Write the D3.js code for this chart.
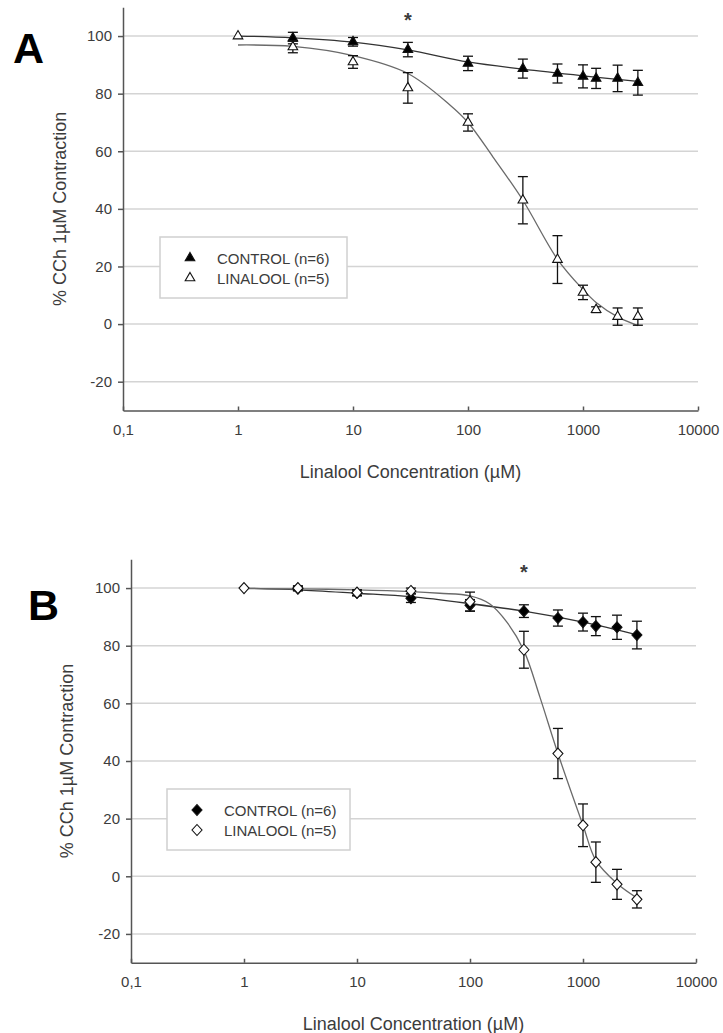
<!DOCTYPE html>
<meta charset="utf-8">
<html>
<head>
<script src="https://cdn.jsdelivr.net/npm/d3@7"></script>
<style>
  body { margin: 0; background: #fff; }
  text { font-family: "Liberation Sans", Arial, sans-serif; fill: #3c3c3c; }
  .grid line { stroke: #d4d4d4; stroke-width: 1.5px; }
  .axis path, .axis line { stroke: #555; stroke-width: 1.5px; }
</style>
</head>
<body>
<script>
// ---- data ----
var xTicks = [0.1, 1, 10, 100, 1000, 10000];
var yTicks = [-20, 0, 20, 40, 60, 80, 100];

// panel A
var concACtrl = [3, 10, 30, 100, 300, 600, 1000, 1300, 2000, 3000];
var ctrlA     = [99.3, 98, 95.3, 90.5, 88.7, 87, 86, 85.3, 85.3, 83.8];
var ctrlAErr  = [2, 1.5, 2.5, 2.5, 3.3, 3.3, 4, 3.5, 4.6, 4.3];
var concALin  = [1, 3, 10, 30, 100, 300, 600, 1000, 1300, 2000, 3000];
var linA      = [100, 96.2, 91, 82, 70, 43, 22.4, 11, 5, 2.6, 2.6];
var linAErr   = [0, 2, 2.2, 5.3, 3, 8.2, 8.3, 2.5, 1, 3, 3];
// fitted curves
var fitACtrlX = [1, 3, 10, 30, 100, 300, 1000, 3000];
var fitACtrlY = [100, 99.4, 97.9, 95.2, 91, 88.5, 86.2, 84.3];
var fitALinX  = [1, 3, 10, 30, 70, 100, 165, 300, 600, 1000, 1300, 2000, 3000];
var fitALinY  = [96.9, 96.4, 93.2, 87, 76, 70, 58, 43, 22.5, 12, 7.5, 2.5, -0.5];

// panel B
var concBCtrl = [3, 10, 30, 100, 300, 600, 1000, 1300, 2000, 3000];
var ctrlB     = [99.8, 98.3, 96.5, 94, 92, 89.6, 88.2, 86.8, 86.4, 83.7];
var ctrlBErr  = [0.8, 1, 1.5, 2, 2.2, 2.8, 3.1, 3.3, 4.2, 4.8];
var concBLin  = [1, 3, 10, 30, 100, 300, 600, 1000, 1300, 2000, 3000];
var linB      = [100, 100, 98.4, 99, 95.3, 78.6, 42.6, 17.7, 4.9, -2.8, -8];
var linBErr   = [0, 0.8, 1, 1, 3.3, 6.4, 8.7, 7.4, 7, 5.2, 3];
var fitBCtrlX = [1, 3, 10, 30, 100, 300, 1000, 3000];
var fitBCtrlY = [100, 99.4, 98.2, 97, 94.6, 92, 88.2, 83.8];
var fitBLinX  = [1, 3, 10, 30, 54, 100, 150, 212, 300, 417, 600, 1000, 1300, 2000, 3000];
var fitBLinY  = [99.8, 99.7, 99.4, 98.8, 98.2, 97.3, 94.5, 88.2, 78.3, 62, 42.6, 17.7, 5.5, -2.5, -7.5];

var legendLabels = ["CONTROL (n=6)", "LINALOOL (n=5)"];

var svg = d3.select("body").append("svg")
    .attr("width", 723)
    .attr("height", 1033);

var diamond = {
  draw: function(ctx, size) {
    var w = Math.sqrt(size) / 2, h = w * 1.1;
    ctx.moveTo(0, -h); ctx.lineTo(w, 0); ctx.lineTo(0, h); ctx.lineTo(-w, 0); ctx.closePath();
  }
};

function zip(xs, ys, es) {
  return xs.map(function(x, i) { return {x: x, y: ys[i], e: es ? es[i] : 0}; });
}

function panel(p) {
  var x = d3.scaleLog().domain([0.1, 10000]).range([p.left, p.right]);
  var y = d3.scaleLinear().domain([-30, 110]).range([p.bottom, p.top]);
  var g = svg.append("g");

  g.append("g").attr("class", "grid")
    .selectAll("line").data(yTicks).enter().append("line")
    .attr("x1", p.left).attr("x2", p.right)
    .attr("y1", function(d) { return y(d); }).attr("y2", function(d) { return y(d); });

  g.append("g").attr("class", "axis")
    .attr("transform", "translate(0," + p.bottom + ")")
    .call(d3.axisBottom(x).tickValues(xTicks).tickSizeInner(-4).tickSizeOuter(0).tickPadding(14)
      .tickFormat(function(d) { return d === 0.1 ? "0,1" : String(d); }))
    .call(function(a) { a.selectAll("text").style("font-size", "15px").attr("fill", "#3c3c3c"); });

  g.append("g").attr("class", "axis")
    .attr("transform", "translate(" + p.left + ",0)")
    .call(d3.axisLeft(y).tickValues(yTicks).tickSizeInner(5).tickSizeOuter(0).tickPadding(6)
      .tickFormat(function(d) { return String(d); }))
    .call(function(a) { a.selectAll("text").style("font-size", "15px").attr("fill", "#3c3c3c"); });

  var line = d3.line()
    .x(function(d) { return x(d.x); })
    .y(function(d) { return y(d.y); })
    .curve(d3.curveCatmullRom.alpha(0.5));

  g.append("path").datum(zip(p.fitCtrlX, p.fitCtrlY))
    .attr("d", line).attr("fill", "none").attr("stroke", "#333").attr("stroke-width", 1.3);
  g.append("path").datum(zip(p.fitLinX, p.fitLinY))
    .attr("d", line).attr("fill", "none").attr("stroke", "#6a6a6a").attr("stroke-width", 1.3);

  var series = [
    {pts: zip(p.ctrlX, p.ctrlY, p.ctrlE), fill: "#000"},
    {pts: zip(p.linX, p.linY, p.linE), fill: "#fff"}
  ];

  series.forEach(function(s) {
    var eb = g.append("g").attr("stroke", "#111").attr("stroke-width", 1.3)
      .selectAll("g").data(s.pts.filter(function(d) { return d.e > 0; })).enter().append("g");
    eb.append("line")
      .attr("x1", function(d) { return x(d.x); }).attr("x2", function(d) { return x(d.x); })
      .attr("y1", function(d) { return y(d.y - d.e); }).attr("y2", function(d) { return y(d.y + d.e); });
    [-1, 1].forEach(function(sg) {
      eb.append("line")
        .attr("x1", function(d) { return x(d.x) - 5; }).attr("x2", function(d) { return x(d.x) + 5; })
        .attr("y1", function(d) { return y(d.y + sg * d.e); }).attr("y2", function(d) { return y(d.y + sg * d.e); });
    });
  });

  series.forEach(function(s) {
    g.append("g").selectAll("path").data(s.pts).enter().append("path")
      .attr("transform", function(d) { return "translate(" + x(d.x) + "," + y(d.y) + ")"; })
      .attr("d", d3.symbol().type(p.symbol).size(p.symSize))
      .attr("fill", s.fill).attr("stroke", "#111").attr("stroke-width", 1.1);
  });

  // significance mark
  g.append("text").attr("x", x(p.starAt)).attr("y", p.starY)
    .attr("text-anchor", "middle").style("font-size", "20px").style("font-weight", "bold")
    .text("*");

  // legend
  var lg = g.append("g");
  lg.append("rect").attr("x", p.leg[0]).attr("y", p.leg[1]).attr("width", p.leg[2]).attr("height", p.leg[3])
    .attr("fill", "#fff").attr("stroke", "#d0d0d0").attr("stroke-width", 1.5);
  legendLabels.forEach(function(t, i) {
    var cy = p.leg[1] + 21 + i * 20;
    lg.append("path").attr("transform", "translate(" + (p.leg[0] + 30) + "," + cy + ")")
      .attr("d", d3.symbol().type(p.symbol).size(p.symSize))
      .attr("fill", i === 0 ? "#000" : "#fff").attr("stroke", "#111").attr("stroke-width", 1.1);
    lg.append("text").attr("x", p.leg[0] + 57).attr("y", cy + 5.5)
      .style("font-size", "15px").text(t);
  });

  // titles
  g.append("text").attr("x", (p.left + p.right) / 2).attr("y", p.bottom + 67)
    .attr("text-anchor", "middle").style("font-size", "18px").text("Linalool Concentration (\u00b5M)");
  g.append("text")
    .attr("transform", "translate(" + p.yTitleX + "," + (p.top + p.bottom) / 2 + ") rotate(-90)")
    .attr("text-anchor", "middle").style("font-size", "18px").text("% CCh 1\u00b5M Contraction");
  g.append("text").attr("x", p.letter[0]).attr("y", p.letter[1])
    .style("font-size", "43px").style("font-weight", "bold").style("fill", "#000")
    .text(p.name);
}

panel({
  name: "A", left: 123, right: 698, top: 7.25, bottom: 410.5,
  ctrlX: concACtrl, ctrlY: ctrlA, ctrlE: ctrlAErr,
  linX: concALin, linY: linA, linE: linAErr,
  fitCtrlX: fitACtrlX, fitCtrlY: fitACtrlY, fitLinX: fitALinX, fitLinY: fitALinY,
  symbol: d3.symbolTriangle, symSize: 40,
  starAt: 30, starY: 27, leg: [160, 237, 187, 61], yTitleX: 66, letter: [13, 63]
});

panel({
  name: "B", left: 131, right: 696, top: 559.25, bottom: 962.75,
  ctrlX: concBCtrl, ctrlY: ctrlB, ctrlE: ctrlBErr,
  linX: concBLin, linY: linB, linE: linBErr,
  fitCtrlX: fitBCtrlX, fitCtrlY: fitBCtrlY, fitLinX: fitBLinX, fitLinY: fitBLinY,
  symbol: diamond, symSize: 100,
  starAt: 300, starY: 579, leg: [167, 789, 183, 61], yTitleX: 73, letter: [28, 620]
});
</script>
</body>
</html>
